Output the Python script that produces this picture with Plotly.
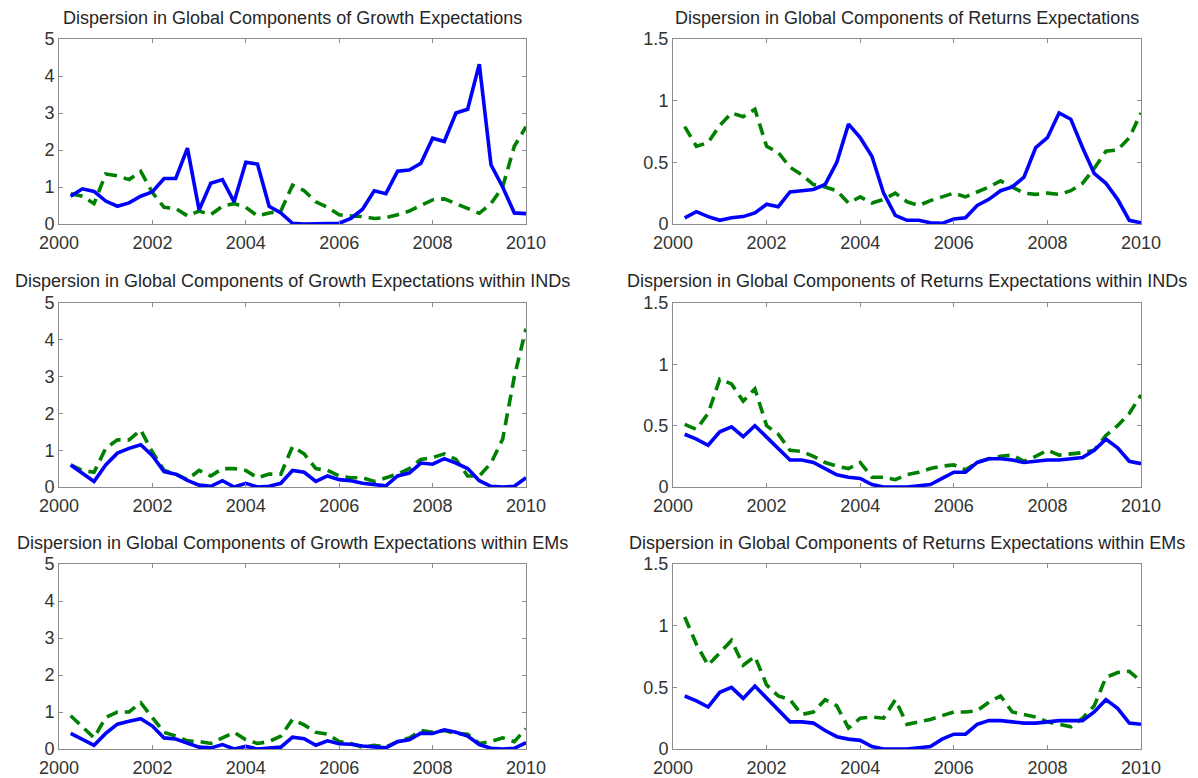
import plotly.graph_objects as go
from plotly.subplots import make_subplots

# quarterly dates, 2000Q1 .. 2009Q4 (plotted at quarter end)
quarters = [2000 + 0.25 * (i + 1) for i in range(40)]

growth_all_blue = [0.75, 0.95, 0.88, 0.62, 0.48, 0.57, 0.75, 0.87, 1.23, 1.23,
                   2.05, 0.38, 1.10, 1.20, 0.60, 1.67, 1.62, 0.48, 0.30, 0.02,
                   0.00, 0.00, 0.00, 0.02, 0.15, 0.40, 0.90, 0.82, 1.43, 1.46,
                   1.64, 2.32, 2.23, 3.00, 3.10, 4.32, 1.60, 1.00, 0.30, 0.28]
growth_all_green = [0.82, 0.75, 0.55, 1.35, 1.30, 1.20, 1.42, 0.85, 0.45, 0.42,
                    0.22, 0.35, 0.25, 0.48, 0.55, 0.45, 0.22, 0.30, 0.35, 1.05,
                    0.90, 0.60, 0.45, 0.25, 0.22, 0.20, 0.15, 0.17, 0.25, 0.35,
                    0.50, 0.65, 0.68, 0.55, 0.40, 0.29, 0.55, 1.00, 2.10, 2.63]

returns_all_blue = [0.05, 0.10, 0.06, 0.03, 0.05, 0.06, 0.09, 0.16, 0.14, 0.26,
                    0.27, 0.28, 0.32, 0.50, 0.81, 0.70, 0.55, 0.25, 0.07, 0.03,
                    0.03, 0.01, 0.005, 0.04, 0.05, 0.15, 0.20, 0.27, 0.30, 0.38,
                    0.62, 0.70, 0.90, 0.85, 0.62, 0.41, 0.33, 0.20, 0.03, 0.01]
returns_all_green = [0.79, 0.63, 0.66, 0.80, 0.90, 0.87, 0.93, 0.63, 0.58, 0.46,
                     0.40, 0.32, 0.30, 0.27, 0.17, 0.22, 0.17, 0.20, 0.25, 0.18,
                     0.15, 0.19, 0.22, 0.25, 0.22, 0.26, 0.30, 0.35, 0.30, 0.25,
                     0.24, 0.25, 0.24, 0.27, 0.33, 0.45, 0.59, 0.60, 0.70, 0.90]

growth_ind_blue = [0.60, 0.38, 0.15, 0.60, 0.92, 1.05, 1.15, 0.85, 0.42, 0.35,
                   0.18, 0.05, 0.02, 0.17, 0.00, 0.10, 0.00, 0.02, 0.10, 0.45,
                   0.40, 0.15, 0.30, 0.20, 0.17, 0.10, 0.07, 0.03, 0.30, 0.38,
                   0.65, 0.62, 0.77, 0.65, 0.50, 0.17, 0.02, 0.00, 0.02, 0.25]
growth_ind_green = [0.60, 0.45, 0.40, 1.05, 1.28, 1.28, 1.55, 0.95, 0.45, 0.35,
                    0.20, 0.45, 0.30, 0.50, 0.50, 0.45, 0.25, 0.35, 0.35, 1.10,
                    0.90, 0.50, 0.45, 0.30, 0.25, 0.25, 0.15, 0.25, 0.35, 0.50,
                    0.75, 0.80, 0.90, 0.75, 0.30, 0.30, 0.65, 1.30, 3.00, 4.30]

returns_ind_blue = [0.43, 0.39, 0.34, 0.45, 0.49, 0.41, 0.50, 0.41, 0.31, 0.22,
                    0.22, 0.20, 0.15, 0.10, 0.08, 0.07, 0.02, 0.00, 0.00, 0.00,
                    0.01, 0.02, 0.07, 0.12, 0.12, 0.20, 0.23, 0.23, 0.22, 0.20,
                    0.21, 0.22, 0.22, 0.23, 0.24, 0.30, 0.39, 0.32, 0.21, 0.19]
returns_ind_green = [0.51, 0.47, 0.60, 0.88, 0.84, 0.70, 0.80, 0.50, 0.43, 0.30,
                     0.29, 0.25, 0.20, 0.17, 0.15, 0.20, 0.08, 0.08, 0.06, 0.10,
                     0.12, 0.15, 0.17, 0.18, 0.14, 0.20, 0.23, 0.25, 0.26, 0.21,
                     0.25, 0.30, 0.26, 0.27, 0.28, 0.30, 0.42, 0.50, 0.60, 0.75]

growth_em_blue = [0.42, 0.25, 0.10, 0.42, 0.67, 0.75, 0.82, 0.62, 0.30, 0.27,
                  0.15, 0.05, 0.03, 0.12, 0.00, 0.07, 0.00, 0.02, 0.05, 0.32,
                  0.28, 0.10, 0.22, 0.14, 0.13, 0.08, 0.05, 0.03, 0.20, 0.25,
                  0.43, 0.42, 0.52, 0.45, 0.35, 0.12, 0.02, 0.00, 0.02, 0.17]
growth_em_green = [0.90, 0.60, 0.30, 0.85, 1.00, 1.00, 1.25, 0.85, 0.45, 0.35,
                   0.22, 0.20, 0.15, 0.30, 0.45, 0.25, 0.15, 0.20, 0.35, 0.80,
                   0.65, 0.45, 0.40, 0.20, 0.15, 0.05, 0.10, 0.05, 0.20, 0.30,
                   0.50, 0.45, 0.50, 0.42, 0.40, 0.15, 0.20, 0.30, 0.20, 0.55]

returns_em_blue = [0.43, 0.39, 0.34, 0.46, 0.50, 0.41, 0.51, 0.41, 0.31, 0.22,
                   0.22, 0.21, 0.15, 0.10, 0.08, 0.07, 0.02, 0.00, 0.00, 0.00,
                   0.01, 0.02, 0.08, 0.12, 0.12, 0.20, 0.23, 0.23, 0.22, 0.21,
                   0.21, 0.22, 0.23, 0.23, 0.23, 0.30, 0.40, 0.33, 0.21, 0.20]
returns_em_green = [1.07, 0.85, 0.68, 0.78, 0.88, 0.68, 0.75, 0.52, 0.43, 0.40,
                    0.28, 0.30, 0.40, 0.35, 0.17, 0.25, 0.26, 0.25, 0.40, 0.20,
                    0.22, 0.24, 0.27, 0.30, 0.30, 0.31, 0.38, 0.43, 0.30, 0.28,
                    0.26, 0.22, 0.20, 0.18, 0.25, 0.35, 0.58, 0.62, 0.63, 0.55]

titles = [
    "Dispersion in Global Components of Growth Expectations",
    "Dispersion in Global Components of Returns Expectations",
    "Dispersion in Global Components of Growth Expectations within INDs",
    "Dispersion in Global Components of Returns Expectations within INDs",
    "Dispersion in Global Components of Growth Expectations within EMs",
    "Dispersion in Global Components of Returns Expectations within EMs",
]
panels = [
    (growth_all_blue, growth_all_green),
    (returns_all_blue, returns_all_green),
    (growth_ind_blue, growth_ind_green),
    (returns_ind_blue, returns_ind_green),
    (growth_em_blue, growth_em_green),
    (returns_em_blue, returns_em_green),
]

# page body adds an 8px offset, so the figure is 8px smaller than the window
OFF = 8
W, H = 1198 - OFF, 778 - OFF
x_px = [(59, 526), (673, 1141)]
y_px = [(39, 224), (303, 487), (564, 749)]
title_px = [18, 281, 543]

FONT = "Liberation Sans, Arial, sans-serif"
AX = "#8c8c8c"

fig = make_subplots(rows=3, cols=2)

for k, (blue, green) in enumerate(panels):
    r, c = k // 2 + 1, k % 2 + 1
    fig.add_trace(go.Scatter(x=quarters, y=green, mode="lines",
                             line=dict(color="#008000", width=3.6, dash="12px,7px"),
                             showlegend=False), row=r, col=c)
    fig.add_trace(go.Scatter(x=quarters, y=blue, mode="lines",
                             line=dict(color="#0000ff", width=3.6),
                             showlegend=False), row=r, col=c)

    left, right = x_px[c - 1]
    top, bot = y_px[r - 1]
    fig.update_xaxes(domain=[(left - OFF) / W, (right - OFF) / W],
                     range=[2000, 2010],
                     tickvals=[2000, 2002, 2004, 2006, 2008, 2010],
                     row=r, col=c)
    if c == 1:
        fig.update_yaxes(range=[0, 5], tickvals=[0, 1, 2, 3, 4, 5], row=r, col=c)
    else:
        fig.update_yaxes(range=[0, 1.5], tickvals=[0, 0.5, 1, 1.5],
                         ticktext=["0", "0.5", "1", "1.5"], row=r, col=c)
    fig.update_yaxes(domain=[1 - (bot - OFF) / H, 1 - (top - OFF) / H], row=r, col=c)

    fig.add_annotation(text=titles[k], xref="paper", yref="paper",
                       x=((left + right) / 2 - OFF) / W,
                       y=1 - (title_px[r - 1] - OFF) / H,
                       xanchor="center", yanchor="middle", showarrow=False,
                       font=dict(family=FONT, size=18, color="#262626"))

fig.update_xaxes(showline=True, mirror="allticks", linecolor=AX, linewidth=1,
                 ticks="inside", ticklen=4, tickcolor=AX, showgrid=False,
                 zeroline=False, automargin=False, ticklabelstandoff=2,
                 tickfont=dict(family=FONT, size=18, color="#333333"))
fig.update_yaxes(showline=True, mirror="allticks", linecolor=AX, linewidth=1,
                 ticks="inside", ticklen=4, tickcolor=AX, showgrid=False,
                 zeroline=False, automargin=False,
                 tickfont=dict(family=FONT, size=18, color="#333333"))

fig.update_layout(width=W, height=H, margin=dict(l=0, r=0, t=0, b=0),
                  paper_bgcolor="white", plot_bgcolor="white")

fig.write_html("out.html")
